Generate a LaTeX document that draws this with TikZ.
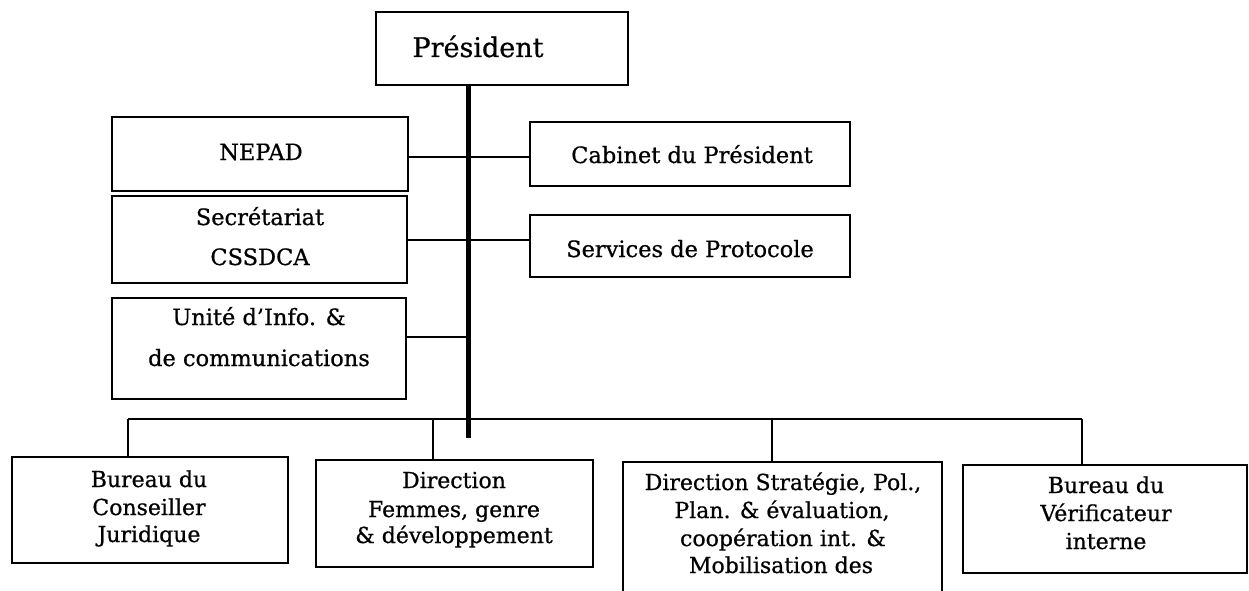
\documentclass[tikz,border=0pt]{standalone}
\usepackage{fontspec}
\setmainfont[FakeBold=0.7]{DejaVu Serif}
\begin{document}
\begin{tikzpicture}[x=1pt,y=-1pt]
\tikzset{
  box/.style={draw=black, line width=2.2pt, inner sep=0pt},
  uptxt/.style={font=\fontsize{22.5}{27}\selectfont, anchor=base, inner sep=0pt},
  lowtxt/.style={font=\fontsize{22}{26}\selectfont, anchor=base, inner sep=0pt},
  prestxt/.style={font=\fontsize{27}{32}\selectfont, anchor=base, inner sep=0pt},
  link/.style={draw=black, line width=1.8pt},
  trunk/.style={draw=black, line width=5pt},
}
\useasboundingbox (0,0) rectangle (1249,591);
\begin{scope}
\clip (0,0) rectangle (1249,591);
% boxes
\node[box, minimum width=252pt, minimum height=73pt] (pres) at (502,48.5) {};
\node[box, minimum width=296pt, minimum height=74pt] (nepad) at (260,154) {};
\node[box, minimum width=295pt, minimum height=87pt] (secr) at (259.5,239.5) {};
\node[box, minimum width=294pt, minimum height=101pt] (unite) at (259,348.5) {};
\node[box, minimum width=320pt, minimum height=64pt] (cab) at (690,154) {};
\node[box, minimum width=320pt, minimum height=62pt] (serv) at (690,246) {};
\node[box, minimum width=276pt, minimum height=106pt] (jur) at (150,510) {};
\node[box, minimum width=277pt, minimum height=107pt] (fem) at (454.5,513.5) {};
\node[box, minimum width=319pt, minimum height=158pt] (strat) at (782.5,541) {};
\node[box, minimum width=284pt, minimum height=108pt] (verif) at (1105,519) {};
% texts
\node[prestxt] (presT) at (478,57) {Président};
\node[uptxt] (nepadT) at (261,160) {NEPAD};
\node[uptxt] (secrT1) at (260,225) {Secrétariat};
\node[uptxt] (secrT2) at (260,265) {CSSDCA};
\node[uptxt] (uniteT1) at (259,325) {Unité d'Info. \&};
\node[uptxt] (uniteT2) at (259,366) {de communications};
\node[uptxt] (cabT) at (692,163) {Cabinet du Président};
\node[uptxt] (servT) at (690,257) {Services de Protocole};
\node[lowtxt] (jurT1) at (149,487) {Bureau du};
\node[lowtxt] (jurT2) at (149,515) {Conseiller};
\node[lowtxt] (jurT3) at (149,542) {Juridique};
\node[lowtxt] (femT1) at (454,488) {Direction};
\node[lowtxt] (femT2) at (454,517) {Femmes, genre};
\node[lowtxt] (femT3) at (454,543) {\& développement};
\node[lowtxt] (stratT1) at (783,490) {Direction Stratégie, Pol.,};
\node[lowtxt] (stratT2) at (782,518) {Plan. \& évaluation,};
\node[lowtxt] (stratT3) at (783,546) {coopération int. \&};
\node[lowtxt] (stratT4) at (781,573) {Mobilisation des};
\node[lowtxt] (verifT1) at (1106,493) {Bureau du};
\node[lowtxt] (verifT2) at (1106,521) {Vérificateur};
\node[lowtxt] (verifT3) at (1106,549) {interne};
% connectors
\coordinate (tEnd) at (468,438);
\coordinate (nT) at (468,157);
\coordinate (sT) at (468,240);
\coordinate (uT) at (468,337);
\coordinate (b1) at (128,419);
\coordinate (b2) at (433,419);
\coordinate (b3) at (772,419);
\coordinate (b4) at (1082,419);
\draw[link] (nepad.east |- nT) -- (cab.west |- nT);
\draw[link] (secr.east |- sT) -- (serv.west |- sT);
\draw[link] (unite.east |- uT) -- (uT);
\draw[link] (b1) -- (b4);
\draw[link] (b1) -- (b1 |- jur.north);
\draw[link] (b2) -- (b2 |- fem.north);
\draw[link] (b3) -- (b3 |- strat.north);
\draw[link] (b4) -- (b4 |- verif.north);
\draw[trunk] (pres.south -| tEnd) -- (tEnd);
\end{scope}
\end{tikzpicture}
\end{document}
